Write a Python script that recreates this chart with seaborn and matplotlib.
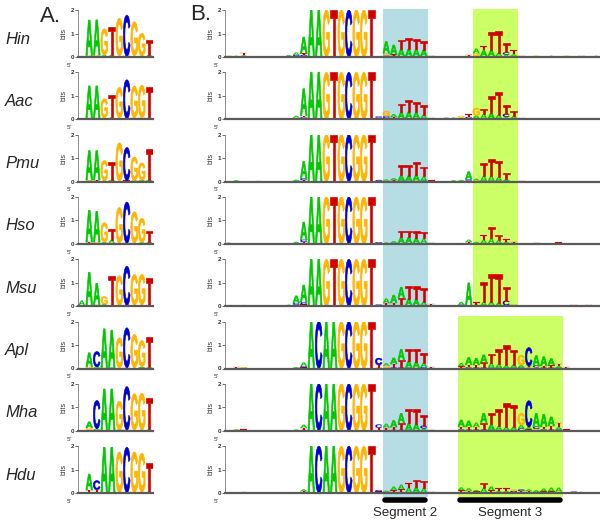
import matplotlib
matplotlib.use("Agg")
import matplotlib.pyplot as plt
import seaborn as sns
from matplotlib.textpath import TextPath
from matplotlib.patches import PathPatch, Rectangle
from matplotlib.font_manager import FontProperties
from matplotlib.transforms import Affine2D

# species, top to bottom
species = ["Hin", "Aac", "Pmu", "Hso", "Msu", "Apl", "Mha", "Hdu"]

# panel A: 10 positions, each stack listed top letter first ("A1.5" = A, 1.5 bits)
hin_a = ["", "A1.5 G.04 C.03", "A1.5 G.05 C.03", "G1.12 A.05 C.03", "T1.2 A.06 G.03",
         "G1.6 A.03 C.02", "C1.75 T.03", "G1.45 A.03 C.02", "G.95 A.03 C.03", "T.62 A.06 G.03"]
aac_a = ["", "A1.35 T.04 G.03", "A1.35 G.04 C.03", "G.8 A.04 C.03", "T.95 A.06 G.03",
         "G1.3 A.03 C.03", "C1.65 T.03", "G1.35 A.04 C.03", "G1.38 T.04 C.03", "T1.28 A.05 G.03"]
pmu_a = ["", "A1.25 G.04 C.03", "A1.25 T.04 C.03", "G.85 A.05", "T.75 A.05 G.03",
         "G1.62 A.03", "C1.4 T.03 A.02", "G1.0 A.03 T.02", "G.72 A.04 C.03", "T1.3 A.05 G.03"]
hso_a = ["", "A1.35 T.05 G.03", "A1.3 G.05 C.03", "G.82 A.05 C.03", "T.45 A.15 G.03",
         "G1.52 A.03", "C1.75 T.03", "G1.32 A.03 C.02", "G1.02 A.04 C.03", "T.45 A.06 G.03"]
msu_a = ["A.2 G.04", "A1.4 G.04", "A.9 G.04 C.03", "G.32 A.05 C.04", "T1.25 A.05",
         "G1.27 A.03", "C1.67 T.03", "G1.3 A.03 C.02", "G1.3 A.04 C.02", "T1.12 A.04 G.02"]
apl_a = ["", "A.6 G.04 T.03", "C.65 A.04 G.03", "A1.66 G.03", "A1.6 C.03",
         "G1.28 A.03", "C1.7 T.03", "G1.42 A.03", "G1.12 A.04 C.03", "T1.28 A.04 G.02"]
mha_a = ["", "A.25 G.08 T.05", "C1.2 A.05 G.04", "A1.75 C.03", "A1.75 G.03",
         "G1.2 A.03 C.03", "C1.85 T.03", "G1.55 A.03", "G1.55 A.03 C.02", "T1.35 A.04 G.02"]
hdu_a = ["", "A.68 T.08 G.05", "C.38 T.1 A.05", "A1.93 G.02", "A1.93 G.02",
         "G1.72 A.03", "C1.93 T.02", "G1.72 A.03", "G1.66 A.04", "T1.2 A.05 G.02"]

# panel B: 50 positions, conserved core from position 11 (full 2 bits), other stacks sparse
core_height = 2.0
core_start = 11
cores = ["AAGTGCGGT"] * 5 + ["ACAAGCGGT"] * 3

hin_b = {0: "G.03 C.02", 1: "A.03 T.02", 2: "T.12 A.04 C.03", 8: "A.05 G.03", 9: "A.1 C.05 T.04",
         10: "A.7 T.06 C.05 G.04", 21: "A.5 G.1 C.06", 22: "A.4 T.06 C.05", 23: "T.4 A.3 C.04",
         24: "T.45 A.3 G.04", 25: "T.42 A.3 C.04", 26: "T.36 A.26 C.04", 27: "T.03 C.02",
         32: "T.07 C.03", 33: "A.2 G.12 C.04", 34: "T.17 A.24 G.04", 35: "T.78 A.25 C.04",
         36: "T.92 A.14 C.04", 37: "T.38 C.1 A.1", 38: "T.18 A.08 G.04", 39: "T.03 A.02",
         41: "G.03 C.02", 43: "A.03 T.02", 45: "G.03 T.02", 47: "T.03 A.02", 49: "A.03 G.02"}
aac_b = {1: "A.03 G.02", 3: "C.03 T.02", 9: "A.08 T.04 C.03", 10: "A1.15 T.06 C.05 G.04",
         20: "C.05 T.04 G.03", 21: "G.22 C.08 A.05", 22: "A.12 T.06 C.04", 23: "T.36 A.26 C.04",
         24: "T.5 A.28 G.04", 25: "T.44 A.25 C.04", 26: "T.4 A.16 C.04", 27: "T.03 C.02",
         29: "C.04 G.02", 30: "A.04 G.03", 31: "G.08 A.04 C.03", 32: "T.12 C.06 A.04",
         33: "G.32 A.12 C.04", 34: "T.22 A.2 C.03", 35: "T.72 A.22 C.04", 36: "T.98 A.16 C.04",
         37: "T.36 C.14 A.1", 38: "T.22 A.1 G.04", 39: "T.03 A.02"}
pmu_b = {1: "A.03 C.02", 4: "G.03", 9: "A.05 C.03", 10: "A.72 C.08 T.06", 20: "C.04 G.03",
         21: "A.06 G.03", 22: "A.08 T.04 C.03", 23: "T.45 A.22 C.04", 24: "T.45 A.22 C.03",
         25: "T.55 A.24 G.04", 26: "T.42 A.18 C.04", 27: "T.03 G.02", 30: "A.03 C.02",
         31: "A.04 G.03", 32: "A.32 C.06 T.04", 33: "A.07 G.03 C.02", 34: "T.55 A.2 C.04",
         35: "T.72 A.2 C.04", 36: "T.7 A.15 C.04", 37: "T.28 A.06 C.04", 39: "T.02"}
hso_b = {0: "A.03 C.02", 9: "A.06 C.03", 10: "A.75 C.1 T.08", 20: "C.04 T.03", 21: "A.04 G.02",
         22: "A.08 C.04", 23: "T.25 A.25 C.03", 24: "T.28 A.25 C.03", 25: "T.28 A.22 G.03",
         26: "T.28 A.2 C.03", 27: "T.02 G.02", 32: "A.1 T.05 C.03", 33: "A.06 G.03",
         34: "T.2 A.14 C.03", 35: "T.48 A.2 C.03", 36: "T.22 A.12 C.03", 37: "T.12 A.05 C.03",
         38: "T.07 A.03", 41: "T.03 C.02", 44: "T.04 A.02"}
msu_b = {1: "A.03 G.02", 2: "C.03 T.02", 8: "A.04 G.02", 9: "A.3 C.08 T.06", 10: "A.72 C.1 T.08",
         20: "C.04 G.03", 21: "A.2 T.08 C.05", 22: "A.32 T.1 C.05", 23: "A.45 T.32 C.04",
         24: "T.52 A.28 C.04", 25: "T.55 A.25 G.04", 26: "T.6 A.15 C.04", 27: "T.08 A.02",
         30: "A.03 G.02", 31: "A.12 C.03 T.03", 32: "A.95 C.04", 33: "T.1 A.04 C.03",
         34: "T.85 A.15 C.03", 35: "T1.18 A.16 C.04", 36: "T1.22 A.12 C.03", 37: "T.58 C.2 A.04",
         38: "T.04 A.02", 44: "A.03 T.02", 46: "T.03 C.02", 48: "T.03 G.02", 49: "A.03 T.02"}
apl_b = {1: "T.04 C.02", 2: "G.04 A.02", 9: "A.03 T.02", 10: "A.16 C.05 T.05",
         20: "C.28 T.12 G.04", 21: "A.1 G.08 T.04", 22: "A.25 T.16 C.04", 23: "A.45 T.33 C.04",
         24: "T.52 A.28 C.04", 25: "T.55 A.25 G.04", 26: "T.4 A.18 C.06", 27: "T.03 C.02",
         31: "A.14 T.05 G.04", 32: "A.3 T.12 C.05", 33: "A.28 T.12 C.04", 34: "A.32 T.22 C.04",
         35: "T.38 A.2 C.04", 36: "T.62 A.15 C.04", 37: "T.85 A.1 C.03", 38: "T.62 A.12 C.05",
         39: "G.42 A.1 C.05", 40: "C.78 T.06 A.05", 41: "A.42 C.08 G.05", 42: "A.38 T.08 C.04",
         43: "A.28 T.1 C.04", 44: "T.1 A.06 C.04", 45: "T.04 A.02"}
mha_b = {1: "A.03 T.02", 2: "T.04 G.02", 9: "A.03 G.02", 10: "A.14 T.08 C.04",
         20: "C.14 T.1 G.03", 21: "A.16 T.1 G.04", 22: "A.28 T.12 C.04", 23: "A.4 T.3 C.04",
         24: "T.6 A.28 C.04", 25: "T.62 A.25 G.04", 26: "T.45 C.12 A.1", 27: "T.03 A.02",
         31: "A.28 T.12 C.06", 32: "A.25 T.12 C.05", 33: "A.18 T.12 C.05", 34: "A.4 T.3 C.05",
         35: "T.48 A.22 C.05", 36: "T.72 A.16 C.04", 37: "T1.02 A.12 C.04", 38: "T.92 A.14 C.04",
         39: "G.5 A.15 C.1", 40: "C1.12 A.1 T.06", 41: "A.56 C.1 G.08", 42: "A.52 T.12 C.06",
         43: "A.38 T.16 C.05", 44: "T.18 A.1 C.06", 45: "T.04 A.02"}
hdu_b = {2: "A.03 G.02", 10: "A.08 T.05 C.03", 20: "C.06 T.04 G.03", 21: "A.05 G.03 C.02",
         22: "A.16 T.08 C.04", 23: "A.2 T.12 C.04", 24: "T.18 A.2 C.03", 25: "T.32 A.22 C.03",
         26: "T.3 A.18 C.03", 27: "T.03 A.02", 31: "A.12 T.08 C.04", 32: "A.1 T.06 C.04",
         33: "A.06 T.04 G.03", 34: "T.22 A.18 C.04", 35: "A.16 T.08 C.04", 36: "T.12 A.06 C.03",
         37: "T.12 A.05 C.04", 38: "G.06 C.05 T.04", 39: "C.06 T.05 A.04", 40: "A.06 T.05 C.04",
         41: "A.08 T.04", 42: "A.12 T.04 C.03", 43: "A.16 T.04 C.03", 44: "A.16 G.04 C.03",
         45: "T.02", 46: "C.04 A.02", 47: "A.03 T.02"}

panel_a = [hin_a, aac_a, pmu_a, hso_a, msu_a, apl_a, mha_a, hdu_a]
panel_b = [hin_b, aac_b, pmu_b, hso_b, msu_b, apl_b, mha_b, hdu_b]

# shaded segments: (first pos, last pos, first row, last row)
bands = [(21, 26, 0, 7), (33, 38, 0, 4), (31, 44, 5, 7)]
segments = [("Segment 2", 21, 26), ("Segment 3", 31, 44)]

colors = {"A": "#00c800", "C": "#0000d0", "G": "#ffb400", "T": "#d00000"}
band_colors = ["#b6dde3", "#ccff66", "#ccff66"]

sns.set_style("white")
plt.rcParams["font.family"] = ["Liberation Sans", "DejaVu Sans"]

W, H = 600, 522
fig = plt.figure(figsize=(6, 5.22), dpi=100)

fp = FontProperties(family="Liberation Sans", weight="bold")
glyphs = {}
for ch in "ACGT":
    p = TextPath((0, 0), ch, size=1, prop=fp)
    glyphs[ch] = (p, p.get_extents())


def draw_letter(ax, ch, x, y0, h, w=0.9):
    p, bb = glyphs[ch]
    t = Affine2D().translate(-bb.x0, -bb.y0).scale(w / bb.width, h / bb.height).translate(x - w / 2, y0)
    # thin edge in the same colour thickens the strokes like the heavy logo font
    lw = 0.45 if h > 0.2 else 0.1
    ax.add_patch(PathPatch(t.transform_path(p), fc=colors[ch], ec=colors[ch], lw=lw))


def draw_stack(ax, x, stack):
    y = 0.0
    for tok in reversed(stack.split()):
        h = float(tok[1:])
        draw_letter(ax, tok[0], x, y, h)
        y += h


def add_axes(x0, x1, ytop, ybot):
    return fig.add_axes([x0 / W, 1 - ybot / H, (x1 - x0) / W, (ybot - ytop) / H])


def style_axis(ax, n):
    ax.set_xlim(-0.5, n - 0.5)
    ax.set_ylim(0, 2)
    ax.set_facecolor("none")
    sns.despine(ax=ax, top=True, right=True)
    ax.spines["bottom"].set_color("#5a5a5a")
    ax.spines["bottom"].set_linewidth(1.6)
    ax.spines["bottom"].set_zorder(5)
    ax.spines["left"].set_color("#777777")
    ax.spines["left"].set_linewidth(0.6)
    ax.set_xticks([])
    ax.set_yticks([0, 1, 2])
    ax.tick_params(axis="y", left=True, length=2, width=0.5, pad=1, labelsize=4.5, colors="#333333")
    for lab in ax.get_yticklabels():
        lab.set_fontweight("bold")
    ax.set_ylabel("bits", fontsize=5, labelpad=2, color="#333333")
    ax.annotate("5\u00b4", xy=(0, 0), xycoords="axes fraction", xytext=(-8, -6),
                textcoords="offset points", fontsize=4.5, color="#333333", ha="left", va="center")


row_pitch = 62.3
first_zero = 57
row_h = 47
axes_b = []
for i, name in enumerate(species):
    zero = first_zero + row_pitch * i
    ax_a = add_axes(78, 153, zero - row_h, zero)
    style_axis(ax_a, 10)
    for pos, stack in enumerate(panel_a[i]):
        if stack:
            draw_stack(ax_a, pos, stack)

    ax_b = add_axes(225, 600, zero - row_h, zero)
    style_axis(ax_b, 50)
    for pos, stack in panel_b[i].items():
        draw_stack(ax_b, pos, stack)
    for j, ch in enumerate(cores[i]):
        draw_letter(ax_b, ch, core_start + j, 0, core_height)
    axes_b.append(ax_b)

    fig.text(5 / W, 1 - (zero - 18) / H, name, fontsize=12, style="italic", ha="left", va="center")

fig.text(40 / W, 1 - 17 / H, "A.", fontsize=16, ha="left", va="center")
fig.text(190 / W, 1 - 15 / H, "B.", fontsize=16, ha="left", va="center")

# background bands spanning the rows of panel B
fig.canvas.draw()
pads = [(1, 4), (1, 0), (6, 4)]
for (p0, p1, r0, r1), col, (ptop, pbot) in zip(bands, band_colors, pads):
    ax0 = axes_b[0]
    xa = ax0.transData.transform((p0 - 0.5, 0))[0] / W
    xb = ax0.transData.transform((p1 + 0.5, 0))[0] / W
    ytop = axes_b[r0].transAxes.transform((0, 1))[1] + ptop
    ybot = axes_b[r1].transAxes.transform((0, 0))[1] - pbot
    fig.patches.append(Rectangle((xa, ybot / H), xb - xa, (ytop - ybot) / H, transform=fig.transFigure,
                                 facecolor=col, edgecolor="none", zorder=-1))

# segment bars and labels under the last row
ax_last = axes_b[-1]
for label, p0, p1 in segments:
    ax_last.plot([p0 - 0.15, p1 + 0.15], [-0.3, -0.3], color="black", lw=4,
                 solid_capstyle="round", clip_on=False)
    ax_last.text((p0 + p1) / 2, -0.85, label, fontsize=9.5, ha="center", va="center", clip_on=False)

fig.savefig("out.png", dpi=100)
